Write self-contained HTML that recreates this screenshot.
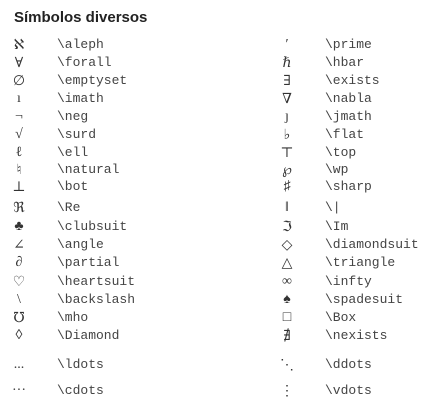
<!DOCTYPE html>
<html><head><meta charset="utf-8"><style>
body{margin:0;width:426px;height:410px;background:#fff;position:relative;overflow:hidden}
.t{position:absolute;left:14px;top:9px;font:bold 15px "Liberation Sans",sans-serif;color:#222}
.s,.c{position:absolute;line-height:16px;color:#333;white-space:pre}
.s{font:14px "Liberation Serif","DejaVu Serif",serif;width:20px;text-align:center}
.c{font:13px "Liberation Mono",monospace;color:#444}
</style></head><body>
<div class="t">Símbolos diversos</div>
<div id="r"></div>
<script>
var L=[["ℵ","\\aleph",44],["∀","\\forall",62],["∅","\\emptyset",80],["ı","\\imath",98],["¬","\\neg",116],["√","\\surd",134],["ℓ","\\ell",152],["♮","\\natural",169],["⊥","\\bot",186],["ℜ","\\Re",207],["♣","\\clubsuit",226],["∠","\\angle",244],["∂","\\partial",262],["♡","\\heartsuit",281],["\\","\\backslash",299],["℧","\\mho",317],["◊","\\Diamond",335],["...","\\ldots",364],["···","\\cdots",390]];
var R=[["′","\\prime",44],["ℏ","\\hbar",62],["∃","\\exists",80],["∇","\\nabla",98],["ȷ","\\jmath",116],["♭","\\flat",134],["⊤","\\top",152],["℘","\\wp",169],["♯","\\sharp",186],["‖","\\|",207],["ℑ","\\Im",226],["◇","\\diamondsuit",244],["△","\\triangle",262],["∞","\\infty",281],["♠","\\spadesuit",299],["□","\\Box",317],["∄","\\nexists",335],["⋱","\\ddots",364],["⋮","\\vdots",390]];
var h="";
function add(a,sx,cx){a.forEach(function(r){h+='<div class="s" style="left:'+sx+'px;top:'+(r[2]-7)+'px">'+r[0]+'</div><div class="c" style="left:'+cx+'px;top:'+(r[2]-7)+'px">'+r[1]+'</div>';});}
add(L,9,57);add(R,277,325);
document.getElementById("r").innerHTML=h;
</script>
</body></html>
